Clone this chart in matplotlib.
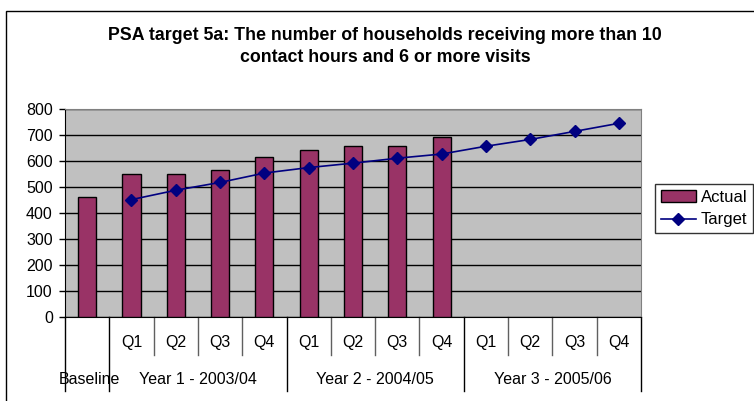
import matplotlib
matplotlib.use("Agg")
import matplotlib.pyplot as plt
import numpy as np
from matplotlib.lines import Line2D
from matplotlib.patches import Rectangle, Patch

## data
title_lines = ["PSA target 5a: The number of households receiving more than 10",
               "contact hours and 6 or more visits"]
quarters = ["Q1", "Q2", "Q3", "Q4"]
years = ["Year 1 - 2003/04", "Year 2 - 2004/05", "Year 3 - 2005/06"]
baseline_label = "Baseline"
actual = [462, 550, 550, 565, 616, 642, 657, 657, 693]
target = [452, 488, 518, 554, 575, 592, 611, 627, 657, 683, 714, 745]
yticks = [0, 100, 200, 300, 400, 500, 600, 700, 800]

plt.rcParams['font.family'] = ['Liberation Sans', 'DejaVu Sans']
FS = 11.5

W, H = 754, 401
fig = plt.figure(figsize=(W / 100, H / 100), dpi=100)
fig.set_facecolor('white')

## plot area in pixels
left, right, top, bottom = 65, 641, 109, 317.3
ax = fig.add_axes([left / W, 1 - bottom / H, (right - left) / W, (bottom - top) / H])
ax.set_facecolor('#C0C0C0')

n_cat = 1 + len(years) * len(quarters)
x_actual = np.arange(len(actual))
x_target = np.arange(1, 1 + len(target))

ax.bar(x_actual, actual, width=0.41, color='#993366', edgecolor='black',
       linewidth=1, zorder=3, label='Actual')
ax.plot(x_target, target, color='#000080', linewidth=1.2, marker='D',
        markersize=6, zorder=4, label='Target')

ax.set_xlim(-0.5, n_cat - 0.5)
ax.set_ylim(0, 800)
ax.set_yticks(yticks)
ax.set_yticklabels([str(v) for v in yticks], fontsize=FS)
ax.yaxis.grid(True, color='black', linewidth=1, zorder=1)
ax.set_axisbelow(True)
ax.tick_params(axis='y', length=4.3, width=1, color='black', pad=4.5)
ax.set_xticks([])
for s in ['top', 'right']:
    ax.spines[s].set_color('#808080')
for s in ['left', 'bottom']:
    ax.spines[s].set_color('black')

## multi level category axis
tr = ax.get_xaxis_transform()
ph = bottom - top
q_low = -(355 - bottom) / ph
y_low = -(391 - bottom) / ph
q_text = -(343 - bottom) / ph
y_text = -(380 - bottom) / ph

bounds = np.arange(n_cat + 1) - 0.5
for i, b in enumerate(bounds):
    major = (i <= 1) or ((i - 1) % len(quarters) == 0)
    ax.plot([b, b], [0, y_low if major else q_low], transform=tr,
            color='black' if major else '#606060', linewidth=1, clip_on=False)

for k, yr in enumerate(years):
    base = 1 + k * len(quarters)
    for j, q in enumerate(quarters):
        ax.text(base + j, q_text, q, transform=tr, ha='center', va='center',
                fontsize=FS)
    ax.text(base + (len(quarters) - 1) / 2, y_text, yr, transform=tr,
            ha='center', va='center', fontsize=FS)
ax.text(0.05, y_text, baseline_label, transform=tr, ha='center', va='center',
        fontsize=FS)

## title
fig.text(385 / W, 1 - 35 / H, title_lines[0], ha='center', va='center',
         fontsize=12.8, fontweight='bold')
fig.text(385 / W, 1 - 57 / H, title_lines[1], ha='center', va='center',
         fontsize=12.8, fontweight='bold')

## chart border
fig.patches.append(Rectangle((6 / W, -0.1), 1.2, 1 - 11 / H + 0.1,
                             transform=fig.transFigure, fill=False,
                             edgecolor='black', linewidth=1))

## legend
handles = [Patch(facecolor='#993366', edgecolor='black', label='Actual'),
           Line2D([], [], color='#000080', marker='D', markersize=6,
                  linewidth=1.2, label='Target')]
leg = fig.legend(handles=handles, loc='upper left',
                 bbox_to_anchor=(655 / W, 1 - 184 / H), fontsize=12,
                 frameon=True, fancybox=False, edgecolor='black',
                 handlelength=2.1, handletextpad=0.3, borderpad=0.35,
                 labelspacing=0.45, borderaxespad=0)
leg.get_frame().set_linewidth(1)

fig.savefig('out.png', dpi=100)
